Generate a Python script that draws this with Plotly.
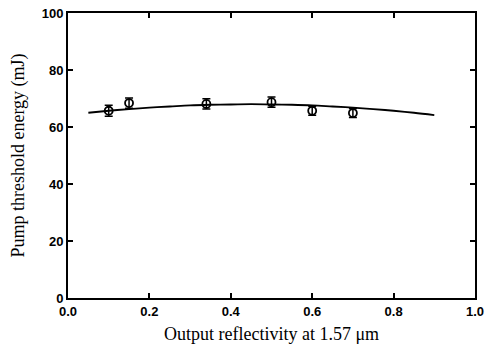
import plotly.graph_objects as go

# Measured data points
refl = [0.10, 0.15, 0.34, 0.50, 0.60, 0.70]
energy = [65.7, 68.4, 68.1, 68.7, 65.7, 64.9]
err = [1.9, 1.8, 1.8, 1.8, 1.6, 1.6]

# Fitted curve
fit_x = [0.05, 0.10, 0.15, 0.20, 0.25, 0.30, 0.35, 0.40, 0.45, 0.50,
         0.55, 0.60, 0.65, 0.70, 0.75, 0.80, 0.85, 0.90]
fit_y = [65.0, 65.7, 66.3, 66.8, 67.2, 67.6, 67.8, 67.9, 68.0, 67.9,
         67.8, 67.6, 67.2, 66.8, 66.3, 65.7, 65.0, 64.2]

x_ticks = [0.0, 0.2, 0.4, 0.6, 0.8, 1.0]
x_tick_labels = ["0.0", "0.2", "0.4", "0.6", "0.8", "1.0"]
y_ticks = [0, 20, 40, 60, 80, 100]
y_tick_labels = ["0", "20", "40", "60", "80", "100"]

fig = go.Figure()
fig.add_trace(go.Scatter(x=fit_x, y=fit_y, mode="lines",
                         line=dict(color="black", width=1.8, shape="spline"),
                         showlegend=False, hoverinfo="skip"))
fig.add_trace(go.Scatter(x=refl, y=energy, mode="markers",
                         marker=dict(symbol="circle-open", size=8, color="black",
                                     line=dict(width=1.8, color="black")),
                         error_y=dict(type="data", array=err, visible=True,
                                      color="black", thickness=1.5, width=4),
                         showlegend=False))

axis_common = dict(showgrid=False, zeroline=False, showline=True, linecolor="black",
                   linewidth=2, ticks="inside", ticklen=5, tickwidth=1.8,
                   tickcolor="black", mirror="ticks", automargin=False,
                   tickfont=dict(family="Liberation Sans, Arial", size=13,
                                 color="black", weight="bold"))

fig.update_layout(
    width=486, height=354,
    margin=dict(l=68, r=11, t=13, b=56),
    paper_bgcolor="white", plot_bgcolor="white",
    xaxis=dict(range=[0, 1], tickvals=x_ticks, ticktext=x_tick_labels,
               title=dict(text="Output reflectivity at 1.57 μm", standoff=10,
                          font=dict(family="Liberation Serif, Times New Roman",
                                    size=18, color="black")),
               **axis_common),
    yaxis=dict(range=[0, 100], tickvals=y_ticks, ticktext=y_tick_labels,
               title=dict(text="Pump threshold energy (mJ)", standoff=12,
                          font=dict(family="Liberation Serif, Times New Roman",
                                    size=18, color="black")),
               **axis_common),
)

fig.write_html("out.html", config={"displayModeBar": False},
               post_script="document.body.style.margin='0px';document.body.style.overflow='hidden';")
